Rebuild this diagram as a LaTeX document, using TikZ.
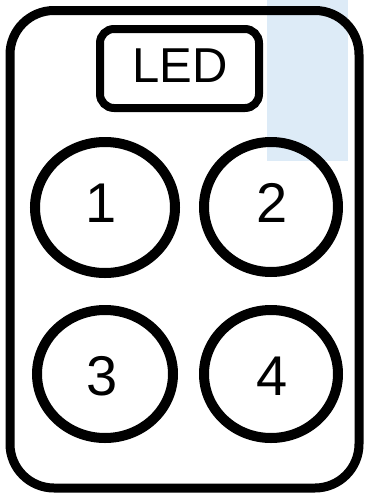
\documentclass[tikz,border=0pt]{standalone}
\usepackage{fontspec}
\setmainfont{Liberation Sans}
\definecolor{paleblue}{HTML}{DDEBF7}
\begin{document}
\begin{tikzpicture}[x=1pt,y=-1pt,
  shell/.style={draw=black,line width=9pt,rounded corners=44pt},
  ledbox/.style={draw=black,line width=8pt,rounded corners=14pt},
  btn/.style={draw=black,line width=10pt},
  numtxt/.style={font=\fontsize{56}{56}\selectfont,inner sep=0pt}]
\useasboundingbox (0,0) rectangle (365,493);
\fill[paleblue] (267,0) rectangle (348,161);
\draw[shell] (10,10.5) rectangle (359,488);
\draw[ledbox] (100,29) rectangle (259,108);
\node[font=\fontsize{49}{49}\selectfont,inner sep=0pt] (led) at (180,66) {LED};
\draw[btn] (105,207.5) ellipse [x radius=70, y radius=65.5];
\draw[btn] (271,207) ellipse [x radius=67, y radius=65];
\draw[btn] (105,374) ellipse [x radius=68, y radius=64];
\draw[btn] (271,374) ellipse [x radius=67, y radius=64];
\node[numtxt] (n1) at (101,203) {1};
\node[numtxt] (n2) at (272,203) {2};
\node[numtxt] (n3) at (102,376) {3};
\node[numtxt] (n4) at (272,376) {4};
\end{tikzpicture}
\end{document}
